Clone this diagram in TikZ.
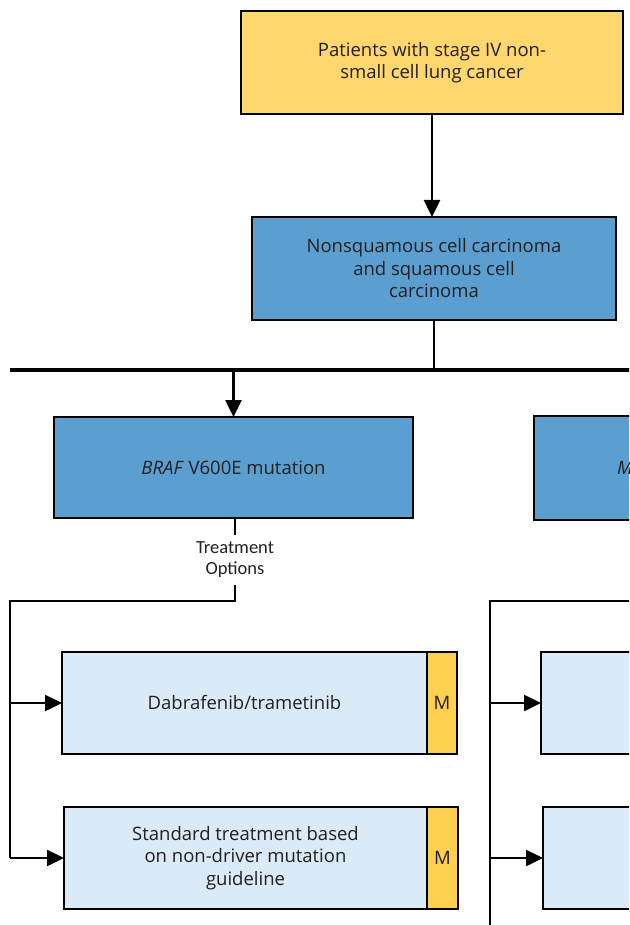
\documentclass[tikz,border=0pt]{standalone}
\usepackage{fontspec}
\setmainfont{Open Sans}
\newfontfamily\optsfont{Carlito}
\usetikzlibrary{arrows.meta}
\definecolor{patyellow}{HTML}{FFD76F}
\definecolor{myellow}{HTML}{FFD050}
\definecolor{histblue}{HTML}{5B9FD1}
\definecolor{optblue}{HTML}{DAEAF6}
\definecolor{textgrey}{HTML}{231F20}
\begin{document}
\begin{tikzpicture}[x=1pt,y=-1pt]
    \tikzstyle{every node}+=[inner sep=0pt, text=textgrey]
    \tikzstyle{box}=[draw=black, line width=2.5pt, outer sep=0pt, rectangle, align=center, font=\fontsize{18.5}{22.5}\selectfont]
    \tikzstyle{conn}=[black, line width=2.5pt]
    \tikzstyle{arr}=[conn, -{Triangle[length=17pt,width=16pt]}]
    \useasboundingbox (0,0) rectangle (629,925);
    \clip (0,0) rectangle (629,925);
    \node [box, fill=patyellow, minimum width=382, minimum height=103] (pat) at (432,62.5) {Patients with stage IV non-\\small cell lung cancer};
    \node [box, fill=histblue, minimum width=364, minimum height=103] (hist) at (434,268.5) {Nonsquamous cell carcinoma\\and squamous cell\\carcinoma};
    \node [box, fill=histblue, minimum width=359, minimum height=101] (braf) at (233.5,467.5) {\textit{BRAF} V600E mutation};
    \node [box, fill=histblue, minimum width=266, minimum height=104, inner xsep=83, text width=100, align=left] (other) at (667,468) {\textit{M}};
    \node [font=\optsfont\fontsize{18.5}{21}\selectfont, align=center, minimum height=50] (opts) at (235,560) {Treatment\\Options};
    \node [box, fill=optblue, minimum width=365, minimum height=102] (dabtram) at (244.5,703) {Dabrafenib/trametinib};
    \node [box, fill=myellow, minimum width=30, minimum height=102, anchor=west] (dabtramM) at (dabtram.east) {M};
    \node [box, fill=optblue, minimum width=363, minimum height=102] (std) at (245.5,858) {Standard treatment based\\on non-driver mutation\\guideline};
    \node [box, fill=myellow, minimum width=31, minimum height=102, anchor=west] (stdM) at (std.east) {M};
    \node [box, fill=optblue, minimum width=260, minimum height=102, anchor=west] (rtop) at (541,703) {};
    \node [box, fill=optblue, minimum width=260, minimum height=102, anchor=west] (rbot) at (543,858) {};
    \coordinate (busL) at (10,370);
    \coordinate (busR) at (640,370);
    \coordinate (railL) at (10,601);
    \coordinate (railR) at (490,601);
    \draw [arr] (pat.south) -- (pat.south |- hist.north);
    \draw [conn] (hist.south) -- (hist.south |- busL);
    \draw [black, line width=3.5pt] (busL) -- (busR);
    \draw [arr] (braf.north |- busL) -- (braf.north);
    \draw [conn] (opts.north |- braf.south) -- (opts.north);
    \draw [conn] (opts.south) -- (opts.south |- railL) -- (railL) -- (railL |- std.west);
    \draw [arr] (railL |- dabtram.west) -- (dabtram.west);
    \draw [arr] (railL |- std.west) -- (std.west);
    \draw [conn] (640,601) -- (railR) -- (490,930);
    \draw [arr] (railR |- rtop.west) -- (rtop.west);
    \draw [arr] (railR |- rbot.west) -- (rbot.west);
\end{tikzpicture}
\end{document}
